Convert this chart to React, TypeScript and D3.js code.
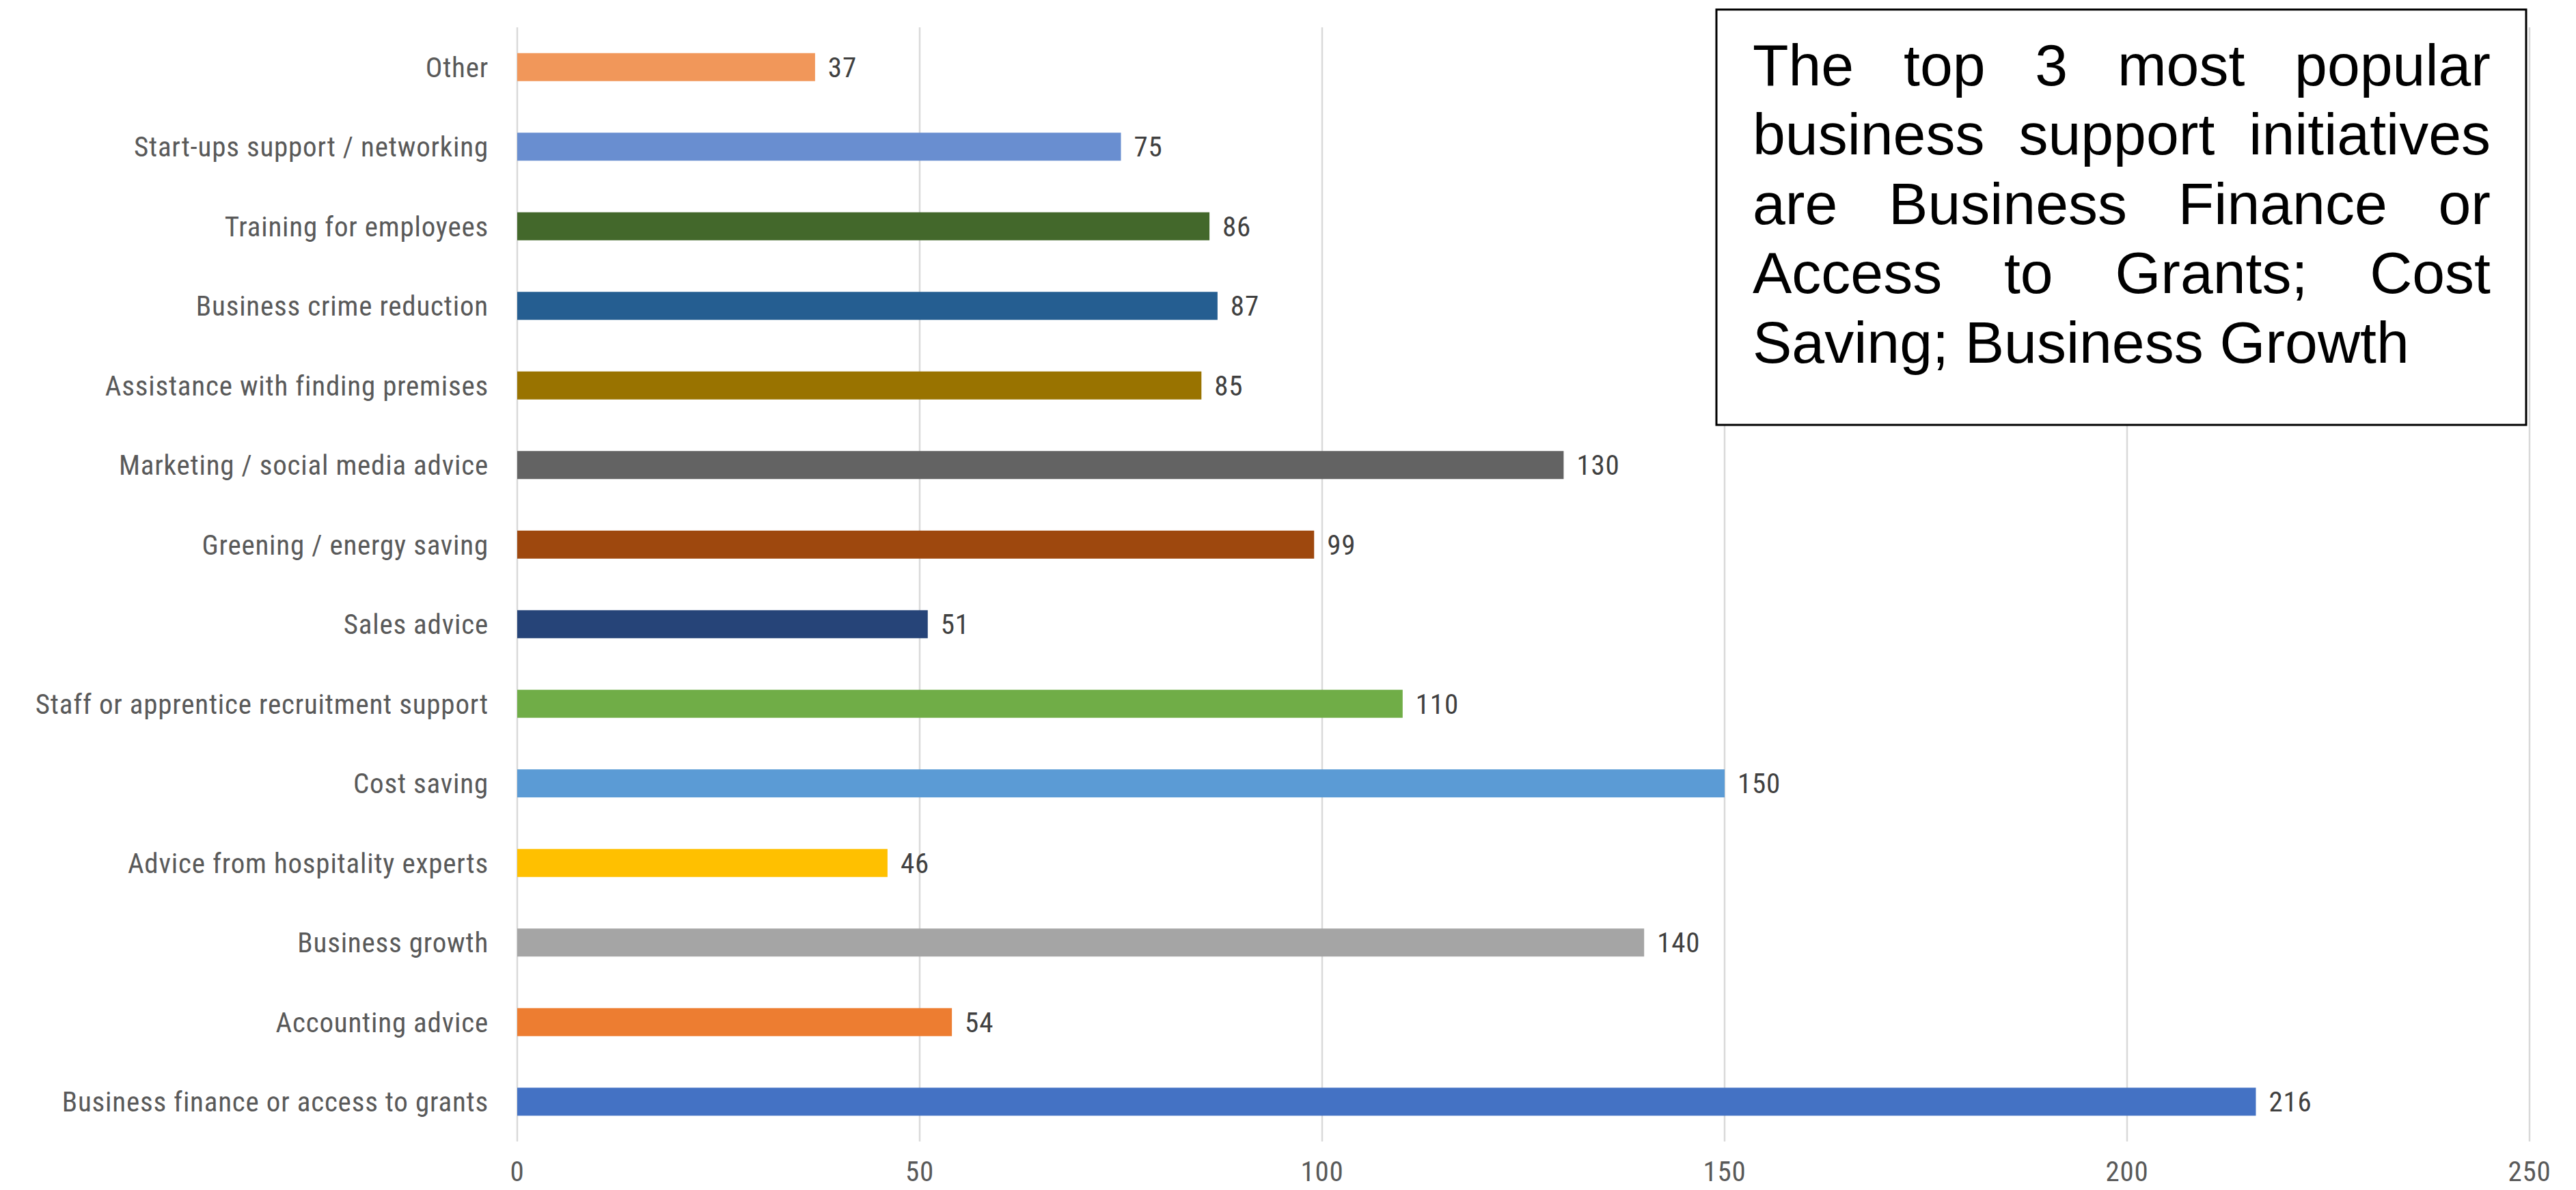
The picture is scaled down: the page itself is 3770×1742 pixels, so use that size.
import React, { useMemo } from 'react';
import * as d3 from 'd3';

const categories = [
  "Other",
  "Start-ups support / networking",
  "Training for employees",
  "Business crime reduction",
  "Assistance with finding premises",
  "Marketing / social media advice",
  "Greening / energy saving",
  "Sales advice",
  "Staff or apprentice recruitment support",
  "Cost saving",
  "Advice from hospitality experts",
  "Business growth",
  "Accounting advice",
  "Business finance or access to grants",
];
const values = [37, 75, 86, 87, 85, 130, 99, 51, 110, 150, 46, 140, 54, 216];
const colors = [
  "#F1975A", "#698ED0", "#43682B", "#255E91", "#997300", "#636363", "#9E480E",
  "#264478", "#70AD47", "#5B9BD5", "#FFC000", "#A5A5A5", "#ED7D31", "#4472C4",
];
const xTicks = [0, 50, 100, 150, 200, 250];
const noteLines = [
  ["The", "top", "3", "most", "popular"],
  ["business", "support", "initiatives"],
  ["are", "Business", "Finance", "or"],
  ["Access", "to", "Grants;", "Cost"],
  ["Saving;", "Business", "Growth"],
];

const W = 3770;
const H = 1742;
const LABEL_FONT = "'Roboto Condensed', 'Liberation Sans Narrow', 'Open Sans', sans-serif";
const LABEL_SIZE = 41;
const LABEL_SPACING = 0.8;
const NOTE_FONT = "'Liberation Sans', Arial, sans-serif";
const NOTE_SIZE = 86;

export default function App() {
  const x = d3.scaleLinear().domain([0, 250]).range([757, 3702]);
  const y = d3.scaleBand<string>().domain(categories).range([40, 1671]).paddingInner(0.648).paddingOuter(0.324);

  const box = { x: 2512, y: 14, w: 1185, h: 608 };
  const textLeft = 2565;
  const textRight = 3645;

  const notePositions = useMemo(() => {
    const canvas = document.createElement('canvas');
    const ctx = canvas.getContext('2d')!;
    ctx.font = `${NOTE_SIZE}px 'Liberation Sans', Arial, sans-serif`;
    return noteLines.map((words, li) => {
      const widths = words.map((w) => ctx.measureText(w).width);
      const isLast = li === noteLines.length - 1;
      const space = ctx.measureText(' ').width;
      const total = d3.sum(widths);
      const gap = isLast || words.length < 2 ? space : (textRight - textLeft - total) / (words.length - 1);
      let cx = textLeft;
      return words.map((w, i) => {
        const px = cx;
        cx += widths[i] + gap;
        return { w, x: px };
      });
    });
  }, []);

  return (
    <div style={{ position: 'absolute', left: 0, top: 0 }}>
      <svg width={W} height={H} style={{ display: 'block', background: '#fff' }}>
        {xTicks.map((t) => (
          <line key={t} x1={x(t)} x2={x(t)} y1={40} y2={1671} stroke="#d9d9d9" strokeWidth={2.5} />
        ))}
        {categories.map((c, i) => (
          <rect key={c} x={x(0)} y={y(c)} width={x(values[i]) - x(0)} height={y.bandwidth()} fill={colors[i]} />
        ))}
        {categories.map((c) => (
          <text key={c} x={715} y={(y(c) ?? 0) + y.bandwidth() / 2} dy="0.35em" textAnchor="end"
            fontFamily={LABEL_FONT} fontSize={LABEL_SIZE} letterSpacing={LABEL_SPACING} fill="#595959">{c}</text>
        ))}
        {categories.map((c, i) => (
          <text key={c} x={x(values[i]) + 19} y={(y(c) ?? 0) + y.bandwidth() / 2} dy="0.35em" textAnchor="start"
            fontFamily={LABEL_FONT} fontSize={LABEL_SIZE} letterSpacing={LABEL_SPACING} fill="#404040">{values[i]}</text>
        ))}
        {xTicks.map((t) => (
          <text key={t} x={x(t)} y={1729} textAnchor="middle" fontFamily={LABEL_FONT} fontSize={LABEL_SIZE}
            letterSpacing={LABEL_SPACING} fill="#595959">{t}</text>
        ))}
        <rect x={box.x} y={box.y} width={box.w} height={box.h} fill="#fff" stroke="#000" strokeWidth={3} />
        {notePositions.map((line, li) => (
          <g key={li}>
            {line.map((wd, wi) => (
              <text key={wi} x={wd.x} y={124.5 + li * 101.6} fontFamily={NOTE_FONT} fontSize={NOTE_SIZE} fill="#000">{wd.w}</text>
            ))}
          </g>
        ))}
      </svg>
    </div>
  );
}
